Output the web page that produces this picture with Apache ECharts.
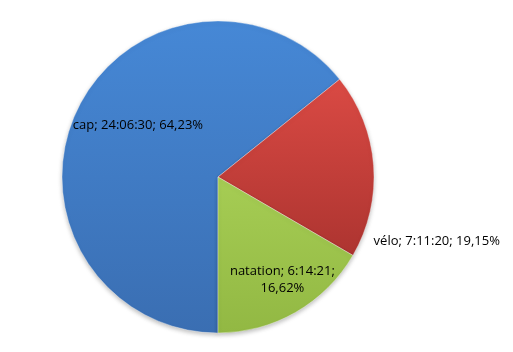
<!DOCTYPE html>
<html><head><meta charset="utf-8">
<script src="https://cdn.jsdelivr.net/npm/echarts@6/dist/echarts.min.js"></script>
<style>html,body{margin:0;padding:0;background:#fff}#c{width:513px;height:352px}</style>
</head><body><div id="c"></div>
<script>
const categories = ['cap', 'vélo', 'natation'];
const durations = ['24:06:30', '7:11:20', '6:14:21'];
const seconds = [86790, 25880, 22461];

const fills = [
  ['#4688d6', '#3a6eb2'],
  ['#da4a44', '#ad3430'],
  ['#a6cd54', '#92b843']
];
const labelOffsets = [[-7, -17], [138, 70], [24, 33]];

const chart = echarts.init(document.getElementById('c'), null, {renderer: 'canvas'});
chart.setOption({
  animation: false,
  backgroundColor: '#ffffff',
  series: [{
    type: 'pie',
    center: [218, 177],
    radius: [0, 156],
    startAngle: -90,
    clockwise: true,
    avoidLabelOverlap: false,
    labelLine: {show: false},
    itemStyle: {borderColor: 'rgba(255,255,255,0.35)', borderWidth: 1, shadowBlur: 4, shadowColor: 'rgba(0,0,0,0.25)', shadowOffsetY: 2},
    label: {
      show: true, position: 'inside', color: '#000', fontFamily: 'Open Sans', fontSize: 13, lineHeight: 17,
      formatter: p => {
        const pct = p.percent.toFixed(2).replace('.', ',');
        const t = durations[p.dataIndex];
        if (p.name === 'natation') return p.name + '; ' + t + ';\n' + pct + '%';
        return p.name + '; ' + t + '; ' + pct + '%';
      }
    },
    data: categories.map((n, i) => ({
      name: n, value: seconds[i],
      itemStyle: {color: {type: 'linear', x: 0, y: 0, x2: 0, y2: 1, colorStops: [{offset: 0, color: fills[i][0]}, {offset: 1, color: fills[i][1]}]}},
      label: {offset: labelOffsets[i]}
    }))
  }]
});
</script></body></html>
